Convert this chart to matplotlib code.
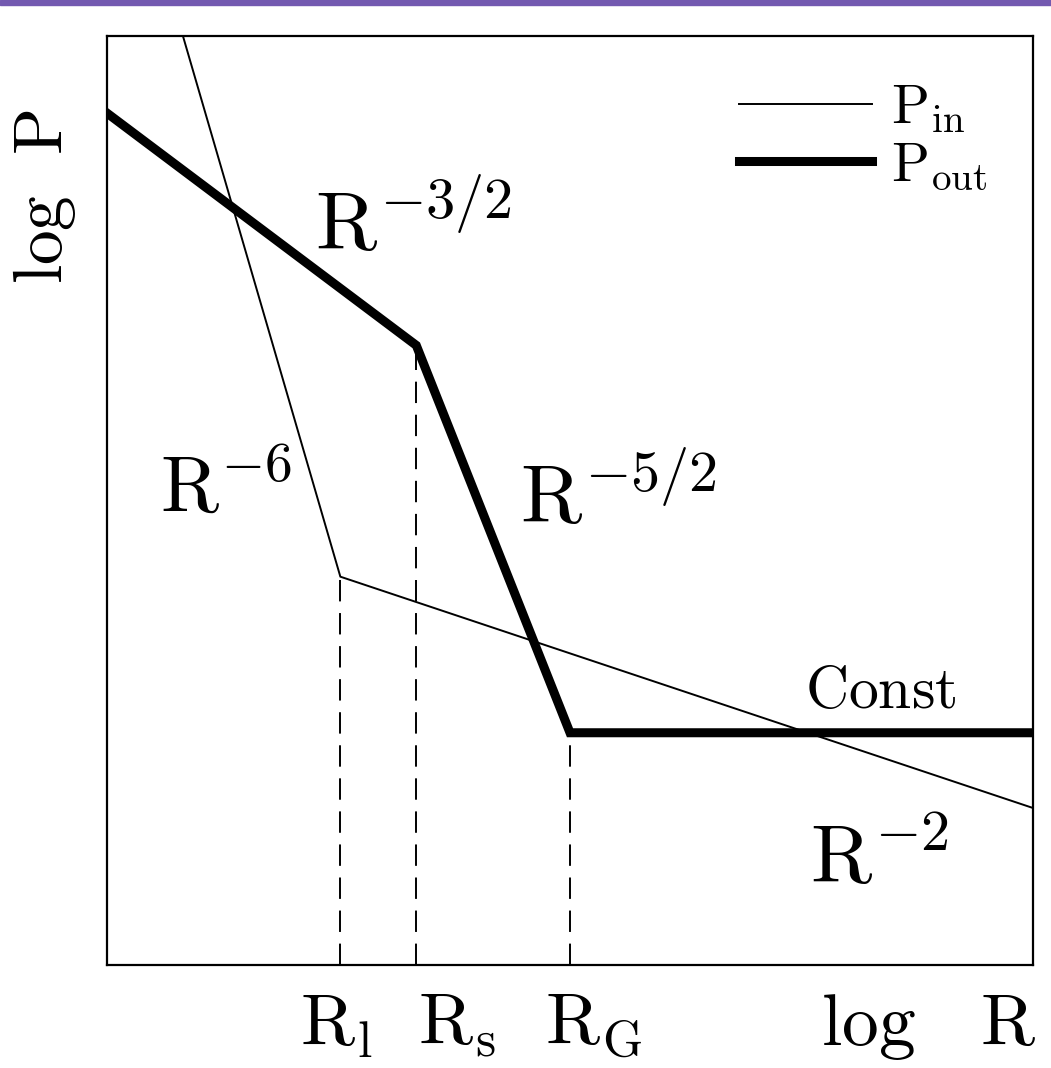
import matplotlib.pyplot as plt
from matplotlib.patches import Rectangle

plt.rcParams['mathtext.fontset'] = 'cm'
plt.rcParams['font.family'] = 'serif'

# break points on the log R axis (arbitrary units, 0..10)
R_l = 2.52
R_s = 3.34
R_G = 5.0

# P_in : R^-6 then R^-2
pin_x = [0.82, R_l, 10.0]
pin_y = [10.0, 4.18, 1.69]

# P_out : R^-3/2, R^-5/2, const
pout_x = [0.0, R_s, R_G, 10.0]
pout_y = [9.17, 6.67, 2.50, 2.50]

W, H = 1051, 1068
fig = plt.figure(figsize=(W / 100, H / 100), dpi=100)
fig.patches.append(Rectangle((0, 1 - 5 / H), 1, 5 / H, transform=fig.transFigure,
                             color='#7359b0', zorder=0))

ax = fig.add_axes([107 / W, (H - 965) / H, 926 / W, 929 / H])
ax.plot(pin_x, pin_y, 'k-', lw=1.4, label=r'$\mathrm{P_{in}}$')
ax.plot(pout_x, pout_y, 'k-', lw=6.5, label=r'$\mathrm{P_{out}}$', solid_joinstyle='miter')

for xb, yb in [(R_l, pin_y[1]), (R_s, pout_y[1]), (R_G, pout_y[2])]:
    ax.plot([xb, xb], [0, yb], 'k', lw=1.4, dashes=(11, 6))

ax.set_xlim(0, 10)
ax.set_ylim(0, 10)
ax.set_xticks([])
ax.set_yticks([])
for s in ax.spines.values():
    s.set_linewidth(1.6)

leg = ax.legend(loc='upper right', frameon=False, fontsize=40, handlelength=2.4,
                handletextpad=0.35, labelspacing=0.05, borderaxespad=0.2,
                bbox_to_anchor=(0.987, 0.988))

big = 60
ax.text(0.2246, 0.7696, r'$\mathrm{R}^{-3/2}$', transform=ax.transAxes, fontsize=big, va='baseline')
ax.text(0.0572, 0.4876, r'$\mathrm{R}^{-6}$', transform=ax.transAxes, fontsize=57, va='baseline')
ax.text(0.446, 0.4758, r'$\mathrm{R}^{-5/2}$', transform=ax.transAxes, fontsize=big, va='baseline')
ax.text(0.7538, 0.2766, r'$\mathrm{Const}$', transform=ax.transAxes, fontsize=43, va='baseline')
ax.text(0.7592, 0.0883, r'$\mathrm{R}^{-2}$', transform=ax.transAxes, fontsize=big, va='baseline')

lab = 53
ax.text(0.2084, -0.086, r'$\mathrm{R_l}$', transform=ax.transAxes, fontsize=lab, va='baseline')
ax.text(0.3359, -0.086, r'$\mathrm{R_s}$', transform=ax.transAxes, fontsize=lab, va='baseline')
ax.text(0.473, -0.086, r'$\mathrm{R_G}$', transform=ax.transAxes, fontsize=lab, va='baseline')
ax.text(0.7710, -0.086, r'$\mathrm{log}$', transform=ax.transAxes, fontsize=lab, va='baseline')
ax.text(0.9430, -0.086, r'$\mathrm{R}$', transform=ax.transAxes, fontsize=lab, va='baseline')

fig.text(45 / W, 1 - 197 / H, r'$\mathrm{log}\ \ \mathrm{P}$', fontsize=50, rotation=90,
         ha='center', va='center')

fig.savefig('out.png', dpi=100)
